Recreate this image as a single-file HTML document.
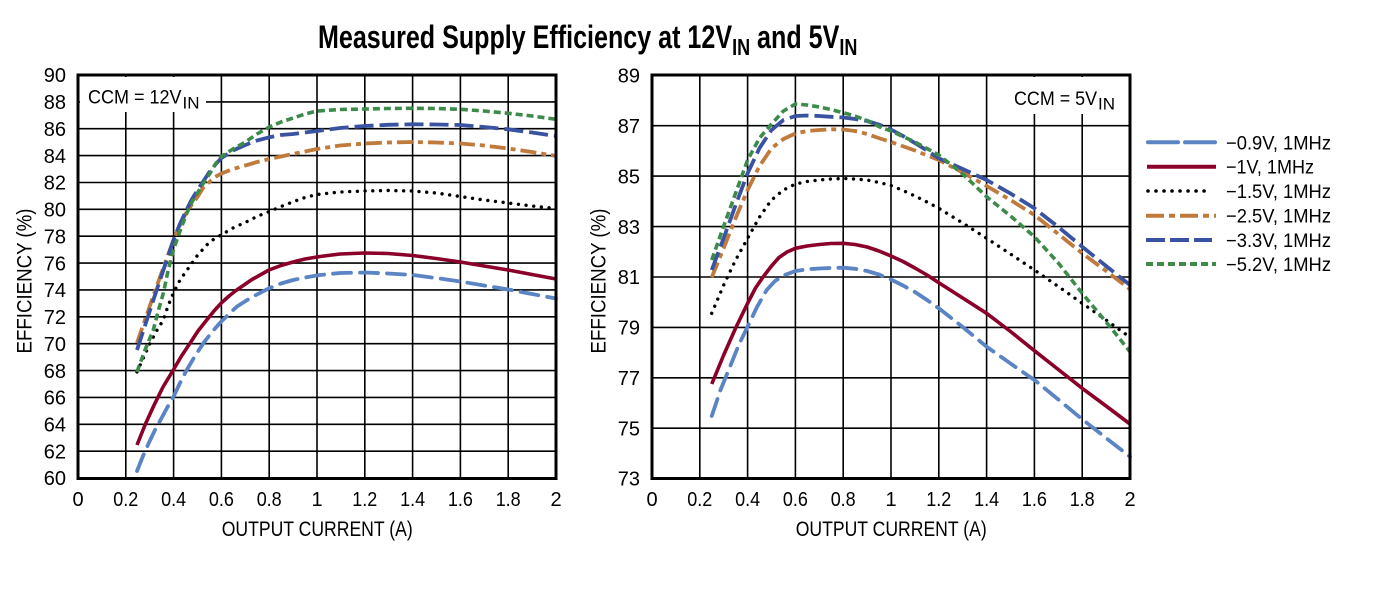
<!DOCTYPE html>
<html>
<head>
<meta charset="utf-8">
<style>
  html,body{margin:0;padding:0;background:#fff;}
  svg{display:block;}
  text{font-family:"Liberation Sans",Arial,sans-serif;fill:#000;}
</style>
</head>
<body>
<svg width="1376" height="604" viewBox="0 0 1376 604" xmlns="http://www.w3.org/2000/svg">
  <rect x="0" y="0" width="1376" height="604" fill="#fff"/>

  <!-- Title -->
  <text transform="translate(318,48) scale(0.784,1)" font-size="32" font-weight="bold">Measured Supply Efficiency at 12V<tspan font-size="23" dy="7">IN</tspan><tspan dy="-7"> and 5V</tspan><tspan font-size="23" dy="7">IN</tspan></text>

  <!-- ================= LEFT CHART ================= -->
  <g stroke="#000" stroke-width="1.6" fill="none">
    <!-- horizontal grid -->
    <line x1="78" y1="101.9" x2="556" y2="101.9"/>
    <line x1="78" y1="128.7" x2="556" y2="128.7"/>
    <line x1="78" y1="155.6" x2="556" y2="155.6"/>
    <line x1="78" y1="182.5" x2="556" y2="182.5"/>
    <line x1="78" y1="209.3" x2="556" y2="209.3"/>
    <line x1="78" y1="236.2" x2="556" y2="236.2"/>
    <line x1="78" y1="263.1" x2="556" y2="263.1"/>
    <line x1="78" y1="289.9" x2="556" y2="289.9"/>
    <line x1="78" y1="316.8" x2="556" y2="316.8"/>
    <line x1="78" y1="343.7" x2="556" y2="343.7"/>
    <line x1="78" y1="370.6" x2="556" y2="370.6"/>
    <line x1="78" y1="397.4" x2="556" y2="397.4"/>
    <line x1="78" y1="424.3" x2="556" y2="424.3"/>
    <line x1="78" y1="451.2" x2="556" y2="451.2"/>
    <!-- vertical grid -->
    <line x1="125.8" y1="75" x2="125.8" y2="478.5"/>
    <line x1="173.6" y1="75" x2="173.6" y2="478.5"/>
    <line x1="221.4" y1="75" x2="221.4" y2="478.5"/>
    <line x1="269.2" y1="75" x2="269.2" y2="478.5"/>
    <line x1="317" y1="75" x2="317" y2="478.5"/>
    <line x1="364.8" y1="75" x2="364.8" y2="478.5"/>
    <line x1="412.6" y1="75" x2="412.6" y2="478.5"/>
    <line x1="460.4" y1="75" x2="460.4" y2="478.5"/>
    <line x1="508.2" y1="75" x2="508.2" y2="478.5"/>
  </g>
  <!-- CCM label box -->
  <rect x="80" y="77" width="126" height="35" fill="#fff"/>
  <text x="88" y="103.5" font-size="19.5" textLength="93.5" lengthAdjust="spacingAndGlyphs">CCM = 12V</text>
  <text x="182.5" y="108.5" font-size="17" textLength="17" lengthAdjust="spacingAndGlyphs">IN</text>

  <!-- left curves -->
  <g fill="none" stroke-linejoin="round">
    <path stroke="#5b84c4" stroke-width="3.8" stroke-linecap="round" stroke-dasharray="18 9"
      d="M137,471 L143,456 L149.7,441 L155.5,429 L161.6,418 L167.5,407 L173.5,396.7 L180,383 L186.7,370 L195,356 L203.3,343.3 L212,332 L221,321.7 L229,314 L236.7,306.7 L252,297 L269,288.3 L281,283.5 L293.1,280 L305,277.5 L320,275 L340,273 L364.8,272.5 L388,273.5 L412.6,275 L436,278 L460.4,281.5 L484,285.5 L508.2,289.5 L532,294 L556,298.5"/>
    <path stroke="#8b0028" stroke-width="3.6" stroke-linecap="butt"
      d="M137,445 L145,425 L153.3,406.7 L163,387 L173.3,370 L181.5,356 L190,343.3 L198,331 L206.7,320 L214,311 L221,303.3 L229,296 L236.7,290 L252,279.5 L269,270 L281,265.5 L293,262 L305,259 L320,256.5 L340,254 L364.8,253 L388,253.5 L412.6,255.5 L436,258.5 L460.4,262 L484,266 L508.2,270 L532,274.5 L556,279"/>
    <path stroke="#000" stroke-width="3.4" stroke-linecap="round" stroke-dasharray="0.01 7.7"
      d="M137,372 L150,343.3 L156.5,331 L163.3,320 L168,306 L173.3,293.3 L180,280 L188.3,268.3 L197,256 L206.7,245 L214,239 L221,235 L233,228 L246.7,221.7 L258,216 L269,211.7 L281,206.5 L293.3,201.7 L305,197.5 L317,194.5 L340,192 L364.8,191 L388,190.5 L412.6,191 L436,193 L460.4,196.5 L484,200 L508.2,203 L532,206 L556,208.5"/>
    <path stroke="#c07a3b" stroke-width="3.8" stroke-linecap="butt" stroke-dasharray="16 5 5 5"
      d="M137,343 L155,291 L173.5,240 L179.5,226 L185.5,214 L191.5,205 L197.5,197 L203,188 L209.4,182 L215,177 L221.4,173.5 L233,169 L245.3,165.5 L257,162 L269.2,159 L281,156.5 L293.1,154 L305,151.5 L317,149 L340,145.5 L364.8,143.5 L388,142.5 L412.6,142 L436,142.5 L460.4,143.5 L484,145.5 L508.2,148.5 L532,152 L556,156"/>
    <path stroke="#3a52a2" stroke-width="3.8" stroke-linecap="butt" stroke-dasharray="19 6"
      d="M137,350 L155,295 L173.5,240 L179.5,225 L185.5,212 L191.5,200 L197.5,190 L203.5,181 L209.4,172 L215,165 L221.4,158 L233,150.5 L245.3,145 L257,140.5 L269.2,137.3 L281,135 L293.1,134 L305,132.5 L317,131 L340,128 L364.8,126 L388,124.8 L412.6,124.3 L436,124.5 L460.4,125 L484,127 L508.2,129.3 L532,132.5 L556,136"/>
    <path stroke="#3d8b4a" stroke-width="3.6" stroke-linecap="butt" stroke-dasharray="7 4"
      d="M137,372 L145,350 L153.3,330 L158,312 L163.3,293.3 L168,271 L173.3,250 L180,231 L186.7,213.3 L192,202 L197.3,193.3 L203.5,183 L210,173.3 L215.5,164 L221,156.7 L233,149 L245.3,142 L257,134 L269.2,127 L281,122 L293.1,118 L305,114 L317,111 L340,109.5 L364.8,109 L388,108.5 L412.6,108.3 L436,108.5 L460.4,109.3 L484,111 L508.2,113.3 L532,116 L556,119.3"/>
  </g>
  <!-- left border -->
  <rect x="78" y="75" width="478" height="403.5" fill="none" stroke="#000" stroke-width="3"/>

  <!-- left y tick labels -->
  <g font-size="20" text-anchor="end">
    <text x="66" y="82.2">90</text>
    <text x="66" y="109.1">88</text>
    <text x="66" y="135.9">86</text>
    <text x="66" y="162.8">84</text>
    <text x="66" y="189.7">82</text>
    <text x="66" y="216.5">80</text>
    <text x="66" y="243.4">78</text>
    <text x="66" y="270.3">76</text>
    <text x="66" y="297.1">74</text>
    <text x="66" y="324">72</text>
    <text x="66" y="350.9">70</text>
    <text x="66" y="377.8">68</text>
    <text x="66" y="404.6">66</text>
    <text x="66" y="431.5">64</text>
    <text x="66" y="458.4">62</text>
    <text x="66" y="485.2">60</text>
  </g>
  <!-- left x tick labels -->
  <g font-size="20" text-anchor="middle">
    <text x="78" y="506">0</text>
    <text x="125.8" y="506" textLength="25" lengthAdjust="spacingAndGlyphs">0.2</text>
    <text x="173.6" y="506" textLength="25" lengthAdjust="spacingAndGlyphs">0.4</text>
    <text x="221.4" y="506" textLength="25" lengthAdjust="spacingAndGlyphs">0.6</text>
    <text x="269.2" y="506" textLength="25" lengthAdjust="spacingAndGlyphs">0.8</text>
    <text x="317" y="506">1</text>
    <text x="364.8" y="506" textLength="25" lengthAdjust="spacingAndGlyphs">1.2</text>
    <text x="412.6" y="506" textLength="25" lengthAdjust="spacingAndGlyphs">1.4</text>
    <text x="460.4" y="506" textLength="25" lengthAdjust="spacingAndGlyphs">1.6</text>
    <text x="508.2" y="506" textLength="25" lengthAdjust="spacingAndGlyphs">1.8</text>
    <text x="556" y="506">2</text>
  </g>
  <text x="221.7" y="536" font-size="21" textLength="191" lengthAdjust="spacingAndGlyphs">OUTPUT CURRENT (A)</text>
  <text transform="translate(31.5,281) rotate(-90)" font-size="21" text-anchor="middle" textLength="145" lengthAdjust="spacingAndGlyphs">EFFICIENCY (%)</text>

  <!-- ================= RIGHT CHART ================= -->
  <g stroke="#000" stroke-width="1.6" fill="none">
    <line x1="652" y1="125.7" x2="1130" y2="125.7"/>
    <line x1="652" y1="176.1" x2="1130" y2="176.1"/>
    <line x1="652" y1="226.6" x2="1130" y2="226.6"/>
    <line x1="652" y1="277" x2="1130" y2="277"/>
    <line x1="652" y1="327.4" x2="1130" y2="327.4"/>
    <line x1="652" y1="377.8" x2="1130" y2="377.8"/>
    <line x1="652" y1="428.2" x2="1130" y2="428.2"/>
    <line x1="699.8" y1="75" x2="699.8" y2="478.5"/>
    <line x1="747.6" y1="75" x2="747.6" y2="478.5"/>
    <line x1="795.4" y1="75" x2="795.4" y2="478.5"/>
    <line x1="843.2" y1="75" x2="843.2" y2="478.5"/>
    <line x1="891" y1="75" x2="891" y2="478.5"/>
    <line x1="938.8" y1="75" x2="938.8" y2="478.5"/>
    <line x1="986.6" y1="75" x2="986.6" y2="478.5"/>
    <line x1="1034.4" y1="75" x2="1034.4" y2="478.5"/>
    <line x1="1082.2" y1="75" x2="1082.2" y2="478.5"/>
  </g>
  <rect x="1000" y="77" width="128" height="37" fill="#fff"/>
  <text x="1014" y="105" font-size="19.5" textLength="83" lengthAdjust="spacingAndGlyphs">CCM = 5V</text>
  <text x="1098" y="109.5" font-size="17" textLength="17" lengthAdjust="spacingAndGlyphs">IN</text>

  <g fill="none" stroke-linejoin="round">
    <path stroke="#5b84c4" stroke-width="3.8" stroke-linecap="round" stroke-dasharray="18 9"
      d="M711.75,416 L720.5,390 L730,366.7 L738.7,345 L747.6,326.7 L757,307 L766.7,290 L775,281 L783.45,275.5 L795.4,271 L807,269.3 L819.3,268.5 L831,268 L843.2,267.7 L855,268.8 L867.1,271 L879,274.5 L891,279.5 L903,285.5 L914.9,292 L927,300 L938.8,308.3 L962.7,327 L986.6,346.7 L1010.5,363.5 L1034.4,380 L1058.3,399.5 L1082.2,419.3 L1106.1,438 L1130,456.7"/>
    <path stroke="#8b0028" stroke-width="3.6" stroke-linecap="butt"
      d="M711.75,384 L723.7,355 L735.65,328 L747.6,303.3 L755.5,288 L763.3,276.7 L771.5,266 L779,257.5 L787,252 L795.4,248.3 L807,246 L819.3,244.5 L831,243.5 L843.2,243.3 L855,244.5 L867.1,247 L879,251 L891,256 L903,261.5 L914.9,268 L927,275 L938.8,282.7 L962.7,298 L986.6,313.3 L1010.5,331.5 L1034.4,350.7 L1058.3,369.5 L1082.2,388.3 L1106.1,406 L1130,424"/>
    <path stroke="#000" stroke-width="3.4" stroke-linecap="round" stroke-dasharray="0.01 7.7"
      d="M711.75,313.3 L723.7,285 L730,271.7 L735.65,260 L747.6,238.3 L759.55,217 L766.7,206.7 L771.5,200 L783.45,190 L795.4,184 L807,181.5 L819.3,180 L831,179 L843.2,178.5 L855,179 L867.1,180 L880,182.7 L891,185.5 L903,190.5 L914.9,196 L927,202 L938.8,208.3 L962.7,223 L986.6,238.3 L1010.5,254 L1034.4,270 L1058.3,286.5 L1082.2,303.3 L1106.1,320 L1130,337.3"/>
    <path stroke="#c07a3b" stroke-width="3.8" stroke-linecap="butt" stroke-dasharray="16 5 5 5"
      d="M711.75,277.3 L723.7,248 L735.65,218 L747.6,190 L759.55,166 L771.5,148.3 L783.45,139 L795.4,133.5 L807,131 L819.3,130 L831,129.3 L843.2,129.5 L855,131 L867.1,134 L880,138.5 L891,142 L914.9,150.5 L938.8,160 L962.7,172.5 L986.6,186 L1010.5,200 L1034.4,215 L1058.3,234 L1082.2,253.3 L1106.1,271 L1130,289.3"/>
    <path stroke="#3a52a2" stroke-width="3.8" stroke-linecap="butt" stroke-dasharray="19 6"
      d="M711.75,270 L723.7,238 L735.65,205 L747.6,173.3 L759.55,148 L771.5,130 L783.45,120 L795.4,116 L807,115.5 L819.3,116 L831,116.8 L843.2,117.5 L855,119 L867.1,121 L880,125 L891,129.5 L903,136 L914.9,143 L927,150.5 L938.8,158.3 L962.7,169 L986.6,180 L1010.5,193.5 L1034.4,208.3 L1058.3,227 L1082.2,246.7 L1106.1,266 L1130,285"/>
    <path stroke="#3d8b4a" stroke-width="3.6" stroke-linecap="butt" stroke-dasharray="7 4"
      d="M711.75,260 L723.7,226 L735.65,193 L747.6,160 L759.55,138 L771.5,124 L783.45,111 L795.4,104 L807,105 L819.3,107 L831,109.5 L843.2,112.7 L855,116 L867.1,120.5 L880,127 L891,131 L914.9,142 L938.8,155 L962.7,174 L986.6,196.7 L1010.5,216 L1034.4,236.7 L1058.3,263 L1082.2,293.3 L1110,326.7 L1130,351.7"/>
  </g>
  <rect x="652" y="75" width="478" height="403.5" fill="none" stroke="#000" stroke-width="3"/>

  <!-- right y tick labels -->
  <g font-size="20" text-anchor="end">
    <text x="640" y="82.5">89</text>
    <text x="640" y="132.9">87</text>
    <text x="640" y="183.3">85</text>
    <text x="640" y="233.8">83</text>
    <text x="640" y="284.2">81</text>
    <text x="640" y="334.6">79</text>
    <text x="640" y="385">77</text>
    <text x="640" y="435.4">75</text>
    <text x="640" y="485.7">73</text>
  </g>
  <g font-size="20" text-anchor="middle">
    <text x="652" y="506">0</text>
    <text x="699.8" y="506" textLength="25" lengthAdjust="spacingAndGlyphs">0.2</text>
    <text x="747.6" y="506" textLength="25" lengthAdjust="spacingAndGlyphs">0.4</text>
    <text x="795.4" y="506" textLength="25" lengthAdjust="spacingAndGlyphs">0.6</text>
    <text x="843.2" y="506" textLength="25" lengthAdjust="spacingAndGlyphs">0.8</text>
    <text x="891" y="506">1</text>
    <text x="938.8" y="506" textLength="25" lengthAdjust="spacingAndGlyphs">1.2</text>
    <text x="986.6" y="506" textLength="25" lengthAdjust="spacingAndGlyphs">1.4</text>
    <text x="1034.4" y="506" textLength="25" lengthAdjust="spacingAndGlyphs">1.6</text>
    <text x="1082.2" y="506" textLength="25" lengthAdjust="spacingAndGlyphs">1.8</text>
    <text x="1130" y="506">2</text>
  </g>
  <text x="795.7" y="536" font-size="21" textLength="191" lengthAdjust="spacingAndGlyphs">OUTPUT CURRENT (A)</text>
  <text transform="translate(605.5,281) rotate(-90)" font-size="21" text-anchor="middle" textLength="145" lengthAdjust="spacingAndGlyphs">EFFICIENCY (%)</text>

  <!-- ================= LEGEND ================= -->
  <g fill="none">
    <line x1="1148" y1="142.3" x2="1215" y2="142.3" stroke="#5b84c4" stroke-width="4" stroke-linecap="round" stroke-dasharray="30 7"/>
    <line x1="1147" y1="166.7" x2="1216" y2="166.7" stroke="#8b0028" stroke-width="4"/>
    <line x1="1148" y1="191" x2="1212" y2="191" stroke="#000" stroke-width="3.6" stroke-linecap="round" stroke-dasharray="0.01 8"/>
    <line x1="1146" y1="215.7" x2="1216" y2="215.7" stroke="#c07a3b" stroke-width="4" stroke-dasharray="18 5 6 5"/>
    <line x1="1146" y1="240" x2="1212" y2="240" stroke="#3a52a2" stroke-width="4" stroke-dasharray="19 5"/>
    <line x1="1146" y1="264" x2="1216" y2="264" stroke="#3d8b4a" stroke-width="4" stroke-dasharray="7 4"/>
  </g>
  <g font-size="19.5">
    <text x="1226" y="149.3" textLength="105" lengthAdjust="spacingAndGlyphs">−0.9V, 1MHz</text>
    <text x="1226" y="173.7" textLength="88" lengthAdjust="spacingAndGlyphs">−1V, 1MHz</text>
    <text x="1226" y="198" textLength="105" lengthAdjust="spacingAndGlyphs">−1.5V, 1MHz</text>
    <text x="1226" y="222.7" textLength="105" lengthAdjust="spacingAndGlyphs">−2.5V, 1MHz</text>
    <text x="1226" y="247" textLength="105" lengthAdjust="spacingAndGlyphs">−3.3V, 1MHz</text>
    <text x="1226" y="271" textLength="105" lengthAdjust="spacingAndGlyphs">−5.2V, 1MHz</text>
  </g>
</svg>
</body>
</html>
